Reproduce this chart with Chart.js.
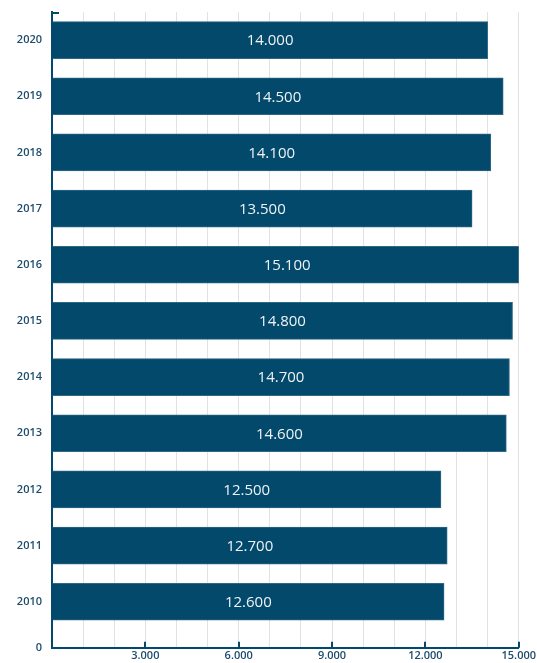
<!DOCTYPE html>
<html>
<head>
<meta charset="utf-8">
<script src="https://cdn.jsdelivr.net/npm/chart.js@4"></script>
<style>
  html, body { margin: 0; padding: 0; background: #fff; }
  #wrap { width: 537px; height: 663px; }
</style>
</head>
<body>
<div id="wrap"><canvas id="chart"></canvas></div>
<script>
// data
const years  = [2010, 2011, 2012, 2013, 2014, 2015, 2016, 2017, 2018, 2019, 2020];
const values = [12600, 12700, 12500, 14600, 14700, 14800, 15100, 13500, 14100, 14500, 14000];
const xMajorTicks = [3000, 6000, 9000, 12000, 15000];

const navy = '#03496b';
const labelColor = '#1d4b6b';

// 12600 -> "12.600"
const fmt = v => String(Math.round(v)).replace(/\B(?=(\d{3})+(?!\d))/g, '.');

// little inward tick marks + value text inside the bars
const extras = {
  id: 'extras',
  afterDatasetsDraw(chart) {
    const { ctx, scales: { x, y } } = chart;
    ctx.save();
    ctx.strokeStyle = navy;
    ctx.lineWidth = 2;
    xMajorTicks.forEach(v => {
      const px = Math.round(x.getPixelForValue(v));
      ctx.beginPath();
      ctx.moveTo(px, y.bottom);
      ctx.lineTo(px, y.bottom - 6);
      ctx.stroke();
    });
    ctx.beginPath();
    ctx.moveTo(x.left, y.top + 1);
    ctx.lineTo(x.left + 7, y.top + 1);
    ctx.stroke();

    ctx.fillStyle = '#eef3f6';
    ctx.font = '15px "Open Sans"';
    ctx.textAlign = 'center';
    ctx.textBaseline = 'middle';
    chart.getDatasetMeta(0).data.forEach((bar, i) => {
      const cx = (bar.base + bar.x) / 2;
      ctx.fillText(fmt(values[i]), cx, bar.y + 1);
    });
    ctx.restore();
  }
};

new Chart(document.getElementById('chart'), {
  type: 'bar',
  data: {
    datasets: [{
      data: years.map((yr, i) => ({ x: values[i], y: yr })),
      backgroundColor: navy,
      borderColor: '#2f6786',
      borderWidth: 1,
      barThickness: 37
    }]
  },
  options: {
    indexAxis: 'y',
    responsive: true,
    maintainAspectRatio: false,
    animation: false,
    layout: { padding: { top: 12 } },
    plugins: { legend: { display: false }, tooltip: { enabled: false } },
    scales: {
      x: {
        type: 'linear',
        min: 0,
        max: 15000,
        ticks: {
          stepSize: 1000,
          autoSkip: false,
          maxRotation: 0,
          padding: 1,
          color: labelColor,
          font: { family: '"Open Sans"', size: 11, weight: '600' },
          callback: v => (v > 0 && v % 3000 === 0) ? fmt(v) : ''
        },
        grid: { color: '#e2e2e2', lineWidth: 1, drawTicks: false },
        border: { color: navy, width: 2 }
      },
      y: {
        type: 'linear',
        offset: false,
        min: 2009.18,
        max: 2020.5,
        afterBuildTicks: s => {
          s.ticks = [{ value: s.min }].concat(years.map(v => ({ value: v })));
        },
        afterFit: s => {
          s.width = 52;
          s.paddingTop = 0;
          s.paddingBottom = 0;
        },
        ticks: {
          padding: 10,
          color: labelColor,
          font: { family: '"Open Sans"', size: 11, weight: '600' },
          callback: v => Number.isInteger(v) ? String(v) : '0'
        },
        grid: { color: 'transparent', drawTicks: false },
        border: { color: navy, width: 2 }
      }
    }
  },
  plugins: [extras]
});
</script>
</body>
</html>
